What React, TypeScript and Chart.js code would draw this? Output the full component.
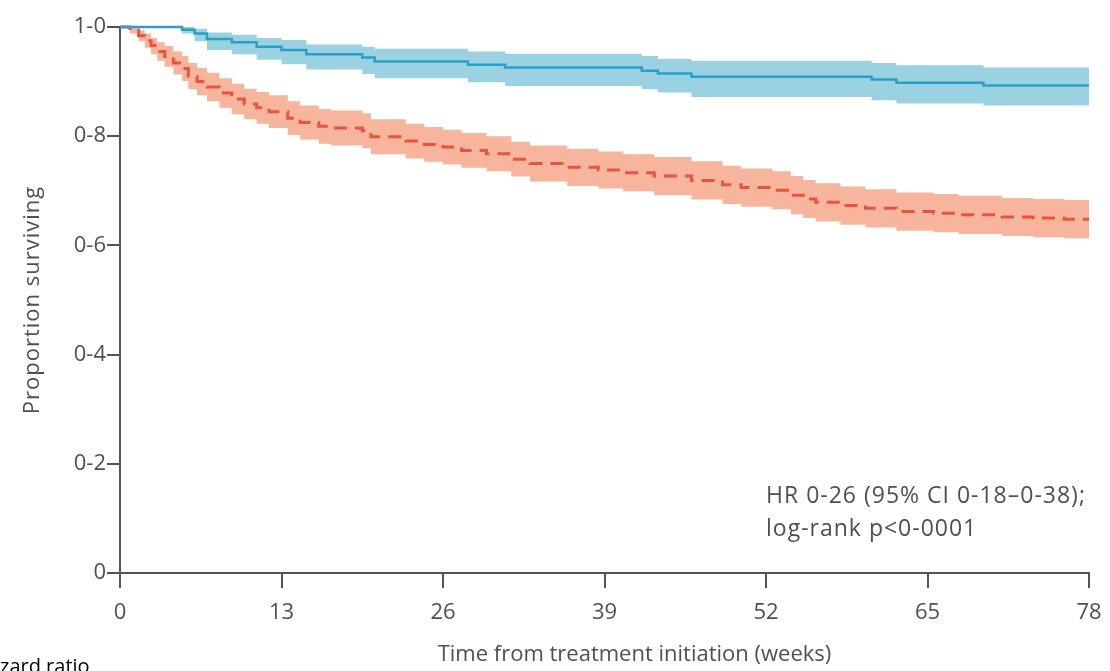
import React, { useEffect, useRef } from "react";
import { Chart, registerables } from "chart.js";

Chart.register(...registerables);

// ---- Data ----
const blueTimes = [0, 5, 6, 7, 9, 11, 13, 15, 19.5, 20.5, 28, 31, 42, 43.3, 46, 60.5, 62.5, 69.5, 78];
const blueSurv = [1, 0.995, 0.988, 0.978, 0.972, 0.964, 0.958, 0.95, 0.944, 0.937, 0.931, 0.926, 0.92, 0.915, 0.909, 0.904, 0.898, 0.893, 0.893];
const blueLower = [1, 0.988, 0.974, 0.958, 0.95, 0.94, 0.932, 0.922, 0.914, 0.906, 0.899, 0.892, 0.886, 0.88, 0.872, 0.866, 0.86, 0.856, 0.856];
const blueUpper = [1, 1, 0.997, 0.99, 0.986, 0.98, 0.976, 0.968, 0.964, 0.96, 0.955, 0.951, 0.947, 0.942, 0.938, 0.934, 0.93, 0.926, 0.926];

const redTimes = [0, 0.8, 1.5, 2, 2.5, 3, 3.6, 4.3, 5, 5.5, 6.2, 7, 8, 9, 10, 11, 12, 13.5, 14.5, 16, 17, 19.5, 20.2, 23, 24.5, 26, 27.5, 29.5, 31.5, 33, 36, 38.5, 40.5, 43, 46, 48.5, 50, 52.5, 54, 55, 56, 58, 60, 62.5, 65.5, 67.5, 71, 73.5, 76, 78];
const redSurv = [1, 0.994, 0.984, 0.975, 0.966, 0.955, 0.946, 0.934, 0.924, 0.91, 0.9, 0.89, 0.879, 0.868, 0.859, 0.852, 0.845, 0.833, 0.825, 0.818, 0.815, 0.81, 0.799, 0.791, 0.785, 0.78, 0.774, 0.768, 0.758, 0.75, 0.743, 0.738, 0.733, 0.727, 0.719, 0.711, 0.706, 0.701, 0.692, 0.685, 0.679, 0.673, 0.668, 0.662, 0.659, 0.656, 0.652, 0.65, 0.648, 0.648];
const redLower = [1, 0.988, 0.974, 0.962, 0.95, 0.938, 0.927, 0.913, 0.901, 0.886, 0.875, 0.864, 0.852, 0.84, 0.831, 0.823, 0.815, 0.802, 0.794, 0.786, 0.783, 0.778, 0.767, 0.759, 0.753, 0.748, 0.742, 0.736, 0.726, 0.717, 0.709, 0.704, 0.699, 0.692, 0.684, 0.676, 0.671, 0.666, 0.657, 0.65, 0.644, 0.638, 0.633, 0.627, 0.624, 0.621, 0.617, 0.615, 0.613, 0.613];
const redUpper = [1, 1, 0.994, 0.988, 0.98, 0.972, 0.965, 0.955, 0.947, 0.934, 0.925, 0.916, 0.906, 0.896, 0.887, 0.881, 0.875, 0.864, 0.856, 0.85, 0.847, 0.842, 0.831, 0.823, 0.817, 0.812, 0.806, 0.8, 0.79, 0.783, 0.777, 0.772, 0.767, 0.762, 0.754, 0.746, 0.741, 0.736, 0.727, 0.72, 0.714, 0.708, 0.703, 0.697, 0.694, 0.691, 0.687, 0.685, 0.683, 0.683];

const xTicks = [0, 13, 26, 39, 52, 65, 78];
const yTicks = [0, 0.2, 0.4, 0.6, 0.8, 1.0];
const yTickLabels = ["0", "0-2", "0-4", "0-6", "0-8", "1-0"];
const annotationLines = ["HR 0-26 (95% CI 0-18–0-38);", "log-rank p<0-0001"];
const xTitle = "Time from treatment initiation (weeks)";
const yTitle = "Proportion surviving";
const strayCaption = "zard ratio";

const TEXT = "#505050";
const AXIS = "#555555";
const FONT = "'Open Sans', 'DejaVu Sans', sans-serif";

const toPts = (t: number[], v: number[]) => t.map((x, i) => ({ x, y: v[i] }));

const textPlugin = {
  id: "extraText",
  afterDraw(chart: any) {
    const { ctx, chartArea, scales } = chart;
    const xs = scales.x;
    const ys = scales.y;
    ctx.save();
    ctx.fillStyle = TEXT;
    // annotation
    ctx.font = `23px ${FONT}`;
    (ctx as any).letterSpacing = "1px";
    ctx.textAlign = "left";
    ctx.textBaseline = "middle";
    ctx.fillText(annotationLines[0], xs.getPixelForValue(52), ys.getPixelForValue(0.14));
    ctx.fillText(annotationLines[1], xs.getPixelForValue(52), ys.getPixelForValue(0.08));
    // x title
    ctx.font = `22px ${FONT}`;
    (ctx as any).letterSpacing = "0px";
    ctx.textAlign = "center";
    ctx.fillText(xTitle, (chartArea.left + chartArea.right) / 2 + 30, chartArea.bottom + 82);
    // y title
    ctx.save();
    ctx.translate(33, (chartArea.top + chartArea.bottom) / 2);
    ctx.rotate(-Math.PI / 2);
    ctx.font = `22px ${FONT}`;
    (ctx as any).letterSpacing = "1px";
    ctx.fillText(yTitle, 0, 0);
    ctx.restore();
    // stray caption
    ctx.fillStyle = "#000000";
    (ctx as any).letterSpacing = "0px";
    ctx.textAlign = "left";
    ctx.textBaseline = "alphabetic";
    ctx.font = `20px ${FONT}`;
    ctx.fillText(strayCaption, 0, chart.height + 2);
    ctx.restore();
  },
};

export default function App() {
  const ref = useRef<HTMLCanvasElement | null>(null);
  useEffect(() => {
    if (!ref.current) return;
    const chart = new Chart(ref.current, {
      type: "line",
      data: {
        datasets: [
          {
            label: "blue",
            data: toPts(blueTimes, blueSurv),
            borderColor: "#2aa0c6",
            borderWidth: 2.5,
            pointRadius: 0,
            stepped: true,
            fill: false,
            order: 1,
            clip: 4,
          },
          {
            label: "red",
            data: toPts(redTimes, redSurv),
            borderColor: "#e8553c",
            borderWidth: 3,
            borderDash: [13, 8],
            pointRadius: 0,
            stepped: true,
            fill: false,
            order: 2,
            clip: 4,
          },
          {
            label: "blueUpper",
            data: toPts(blueTimes, blueUpper),
            borderWidth: 0,
            borderColor: "rgba(0,0,0,0)",
            backgroundColor: "#9ad2e2",
            pointRadius: 0,
            stepped: true,
            fill: "+1",
            order: 3,
          },
          {
            label: "blueLower",
            data: toPts(blueTimes, blueLower),
            borderWidth: 0,
            borderColor: "rgba(0,0,0,0)",
            pointRadius: 0,
            stepped: true,
            fill: false,
            order: 3,
          },
          {
            label: "redUpper",
            data: toPts(redTimes, redUpper),
            borderWidth: 0,
            borderColor: "rgba(0,0,0,0)",
            backgroundColor: "#f6b59c",
            pointRadius: 0,
            stepped: true,
            fill: "+1",
            order: 4,
          },
          {
            label: "redLower",
            data: toPts(redTimes, redLower),
            borderWidth: 0,
            borderColor: "rgba(0,0,0,0)",
            pointRadius: 0,
            stepped: true,
            fill: false,
            order: 4,
          },
        ],
      },
      options: {
        animation: false,
        responsive: false,
        layout: { padding: { top: 27, right: 21, left: 0, bottom: 0 } },
        plugins: { legend: { display: false }, tooltip: { enabled: false }, title: { display: false } },
        scales: {
          x: {
            type: "linear",
            min: 0,
            max: 78,
            afterBuildTicks: (s: any) => {
              s.ticks = xTicks.map((v) => ({ value: v }));
            },
            ticks: { color: TEXT, font: { family: FONT, size: 22 }, padding: 12, maxRotation: 0 },
            grid: { drawOnChartArea: false, drawTicks: true, tickLength: 15, color: AXIS, lineWidth: 2 },
            border: { display: true, color: AXIS, width: 2 },
            afterFit: (s: any) => {
              s.height = 98;
              s.paddingLeft = 0;
              s.paddingRight = 0;
            },
          },
          y: {
            type: "linear",
            min: 0,
            max: 1,
            afterBuildTicks: (s: any) => {
              s.ticks = yTicks.map((v) => ({ value: v }));
            },
            ticks: {
              color: TEXT,
              font: { family: FONT, size: 22 },
              padding: 1,
              callback: (v: any) => {
                const i = yTicks.findIndex((t) => Math.abs(t - Number(v)) < 1e-6);
                return i >= 0 ? yTickLabels[i] : "";
              },
            },
            grid: { drawOnChartArea: false, drawTicks: true, tickLength: 13, color: AXIS, lineWidth: 2 },
            border: { display: true, color: AXIS, width: 2 },
            afterFit: (s: any) => {
              s.width = 120;
              s.paddingTop = 0;
              s.paddingBottom = 0;
            },
          },
        },
      },
      plugins: [textPlugin],
    } as any);
    return () => chart.destroy();
  }, []);
  return (
    <div style={{ position: "absolute", left: 0, top: 0, width: 1110, height: 671, overflow: "hidden", background: "#fff" }}>
      <canvas ref={ref} width={1110} height={671} style={{ width: 1110, height: 671, display: "block" }} />
    </div>
  );
}
